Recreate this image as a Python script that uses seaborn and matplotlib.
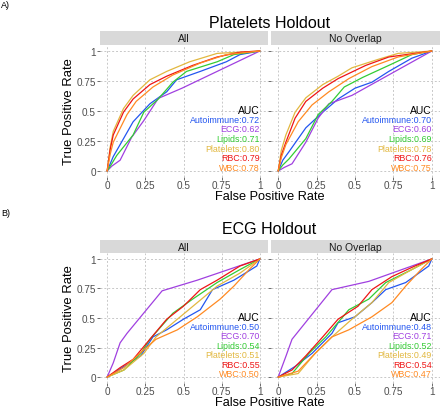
import numpy as np
import pandas as pd
import matplotlib
matplotlib.use("Agg")
import matplotlib.pyplot as plt
import seaborn as sns

models = ["Autoimmune", "ECG", "Lipids", "Platelets", "RBC", "WBC"]
colors = ["#2356F0", "#A040E0", "#33CC33", "#E2B840", "#EE1515", "#FF8A22"]
facets = ["All", "No Overlap"]
titles = ["Platelets Holdout", "ECG Holdout"]
panel_tags = ["A)", "B)"]
ticks = [0, 0.25, 0.5, 0.75, 1]
tick_labels = ["0", "0.25", "0.5", "0.75", "1"]

# AUC values
auc_plt_all = [0.72, 0.62, 0.71, 0.80, 0.79, 0.78]
auc_plt_nov = [0.70, 0.60, 0.69, 0.78, 0.76, 0.75]
auc_ecg_all = [0.50, 0.70, 0.54, 0.51, 0.55, 0.50]
auc_ecg_nov = [0.48, 0.71, 0.52, 0.49, 0.54, 0.47]

# ROC curves (fpr, tpr), Platelets holdout, All
plt_all_fpr = {
    "Autoimmune": [0, 0.04, 0.085, 0.17, 0.28, 0.39, 0.455, 0.61, 0.78, 0.87, 1],
    "ECG":        [0, 0.03, 0.085, 0.16, 0.24, 0.335, 0.49, 1],
    "Lipids":     [0, 0.03, 0.063, 0.17, 0.24, 0.335, 0.43, 0.52, 0.72, 0.83, 1],
    "Platelets":  [0, 0.02, 0.04, 0.107, 0.17, 0.28, 0.39, 0.54, 0.72, 1],
    "RBC":        [0, 0.02, 0.04, 0.107, 0.17, 0.28, 0.39, 0.56, 0.72, 0.87, 1],
    "WBC":        [0, 0.02, 0.04, 0.13, 0.19, 0.30, 0.43, 0.61, 0.78, 1],
}
plt_all_tpr = {
    "Autoimmune": [0, 0.12, 0.22, 0.41, 0.56, 0.66, 0.76, 0.83, 0.91, 0.97, 1],
    "ECG":        [0, 0.04, 0.09, 0.28, 0.42, 0.605, 0.69, 1],
    "Lipids":     [0, 0.06, 0.13, 0.30, 0.49, 0.60, 0.74, 0.83, 0.91, 0.97, 1],
    "Platelets":  [0, 0.20, 0.33, 0.52, 0.63, 0.76, 0.83, 0.91, 0.98, 1],
    "RBC":        [0, 0.18, 0.30, 0.49, 0.60, 0.72, 0.79, 0.88, 0.95, 0.99, 1],
    "WBC":        [0, 0.14, 0.24, 0.47, 0.58, 0.70, 0.80, 0.90, 0.97, 1],
}
# Platelets holdout, No Overlap
plt_nov_fpr = {
    "Autoimmune": [0, 0.03, 0.07, 0.18, 0.29, 0.39, 0.50, 0.61, 0.72, 0.87, 1],
    "ECG":        [0, 0.04, 0.09, 0.18, 0.26, 0.33, 0.48, 1],
    "Lipids":     [0, 0.03, 0.07, 0.18, 0.26, 0.35, 0.43, 0.55, 0.72, 0.87, 1],
    "Platelets":  [0, 0.02, 0.05, 0.11, 0.18, 0.29, 0.39, 0.48, 0.65, 0.78, 1],
    "RBC":        [0, 0.02, 0.05, 0.11, 0.18, 0.29, 0.39, 0.57, 0.72, 1],
    "WBC":        [0, 0.02, 0.05, 0.13, 0.22, 0.33, 0.46, 0.61, 0.78, 1],
}
plt_nov_tpr = {
    "Autoimmune": [0, 0.09, 0.16, 0.36, 0.49, 0.60, 0.69, 0.74, 0.83, 0.94, 1],
    "ECG":        [0, 0.03, 0.06, 0.24, 0.44, 0.56, 0.63, 1],
    "Lipids":     [0, 0.05, 0.10, 0.27, 0.47, 0.58, 0.70, 0.78, 0.88, 0.97, 1],
    "Platelets":  [0, 0.17, 0.30, 0.49, 0.61, 0.72, 0.79, 0.86, 0.93, 0.98, 1],
    "RBC":        [0, 0.13, 0.24, 0.44, 0.58, 0.69, 0.77, 0.88, 0.95, 1],
    "WBC":        [0, 0.11, 0.22, 0.41, 0.55, 0.66, 0.77, 0.87, 0.95, 1],
}
# ECG holdout, All
ecg_all_fpr = {
    "Autoimmune": [0, 0.11, 0.22, 0.30, 0.39, 0.50, 0.61, 0.69, 0.83, 0.98, 1],
    "ECG":        [0, 0.04, 0.085, 0.13, 0.36, 0.59, 1],
    "Lipids":     [0, 0.11, 0.22, 0.28, 0.43, 0.56, 0.72, 0.87, 1],
    "Platelets":  [0, 0.11, 0.24, 0.32, 0.46, 0.59, 0.72, 0.87, 1],
    "RBC":        [0, 0.085, 0.17, 0.28, 0.39, 0.50, 0.61, 0.72, 0.87, 1],
    "WBC":        [0, 0.11, 0.24, 0.32, 0.46, 0.59, 0.74, 0.83, 0.93, 1],
}
ecg_all_tpr = {
    "Autoimmune": [0, 0.09, 0.18, 0.34, 0.40, 0.49, 0.57, 0.74, 0.82, 0.94, 1],
    "ECG":        [0, 0.12, 0.29, 0.37, 0.73, 0.82, 1],
    "Lipids":     [0, 0.06, 0.20, 0.32, 0.54, 0.66, 0.80, 0.91, 1],
    "Platelets":  [0, 0.06, 0.20, 0.34, 0.49, 0.63, 0.77, 0.88, 1],
    "RBC":        [0, 0.08, 0.15, 0.32, 0.49, 0.60, 0.74, 0.82, 0.94, 1],
    "WBC":        [0, 0.08, 0.23, 0.32, 0.40, 0.51, 0.66, 0.77, 0.91, 1],
}
# ECG holdout, No Overlap
ecg_nov_fpr = {
    "Autoimmune": [0, 0.11, 0.22, 0.35, 0.39, 0.50, 0.61, 0.70, 0.83, 0.98, 1],
    "ECG":        [0, 0.05, 0.09, 0.35, 0.59, 1],
    "Lipids":     [0, 0.09, 0.20, 0.31, 0.46, 0.59, 0.70, 0.87, 1],
    "Platelets":  [0, 0.13, 0.24, 0.35, 0.48, 0.61, 0.72, 0.87, 1],
    "RBC":        [0, 0.09, 0.18, 0.29, 0.39, 0.52, 0.61, 0.74, 0.89, 1],
    "WBC":        [0, 0.13, 0.24, 0.35, 0.46, 0.61, 0.74, 0.83, 0.93, 1],
}
ecg_nov_tpr = {
    "Autoimmune": [0, 0.09, 0.20, 0.37, 0.46, 0.51, 0.63, 0.74, 0.80, 0.94, 1],
    "ECG":        [0, 0.175, 0.32, 0.74, 0.81, 1],
    "Lipids":     [0, 0.03, 0.20, 0.34, 0.57, 0.66, 0.80, 0.91, 1],
    "Platelets":  [0, 0.03, 0.20, 0.34, 0.49, 0.63, 0.80, 0.91, 1],
    "RBC":        [0, 0.06, 0.18, 0.34, 0.49, 0.60, 0.74, 0.85, 0.94, 1],
    "WBC":        [0, 0.05, 0.20, 0.34, 0.40, 0.51, 0.63, 0.77, 0.91, 1],
}

curves = [
    [(plt_all_fpr, plt_all_tpr, auc_plt_all), (plt_nov_fpr, plt_nov_tpr, auc_plt_nov)],
    [(ecg_all_fpr, ecg_all_tpr, auc_ecg_all), (ecg_nov_fpr, ecg_nov_tpr, auc_ecg_nov)],
]

sns.set_theme(style="white")
plt.rcParams["font.family"] = ["Liberation Sans", "DejaVu Sans"]

W, H = 440, 410
fig = plt.figure(figsize=(W / 100, H / 100), dpi=100)
fig.patch.set_facecolor("white")

def px_axes(x0, y0, x1, y1):
    return fig.add_axes([x0 / W, 1 - y1 / H, (x1 - x0) / W, (y1 - y0) / H])

rows = [dict(top=46, bot=178, strip=32, title=23, xlab=197.5, ylab_c=112, tag=6),
        dict(top=254, bot=384, strip=241, title=230, xlab=403.3, ylab_c=319, tag=214)]
cols = [(99.5, 267.5), (270.5, 439.5)]

palette = dict(zip(models, colors))
auc_y = [0.43, 0.35, 0.27, 0.19, 0.11, 0.03]

for r, row in enumerate(rows):
    for c, (x0, x1) in enumerate(cols):
        fpr, tpr, aucs = curves[r][c]
        recs = []
        for m in models:
            for fx, ty in zip(fpr[m], tpr[m]):
                recs.append((m, fx, ty))
        df = pd.DataFrame(recs, columns=["model", "fpr", "tpr"])
        ax = px_axes(x0, row["top"], x1, row["bot"])
        sns.lineplot(data=df, x="fpr", y="tpr", hue="model", palette=palette,
                     hue_order=models, estimator=None, sort=False,
                     linewidth=0.9, legend=False, ax=ax)
        ax.set_xlim(-0.05, 1.05)
        ax.set_ylim(-0.05, 1.05)
        ax.set_xticks(ticks)
        ax.set_yticks(ticks)
        ax.set_xticklabels(tick_labels)
        ax.set_yticklabels(tick_labels if c == 0 else [])
        ax.grid(True, color="#C8C8C8", linestyle=(0, (2, 2)), linewidth=0.7)
        ax.set_axisbelow(True)
        for s in ax.spines.values():
            s.set_visible(False)
        ax.tick_params(axis="both", which="both", length=2, width=0.6,
                       color="#555555", labelsize=7.2, labelcolor="#4D4D4D", pad=0.5,
                       bottom=True, left=True)
        ax.set_xlabel("")
        ax.set_ylabel("")
        ax.text(1.0, 0.51, "AUC", ha="right", va="center", fontsize=7.5, color="black")
        for m, col, a, yy in zip(models, colors, aucs, auc_y):
            ax.text(1.0, yy, f"{m}:{a:.2f}", ha="right", va="center", fontsize=6.4, color=col)
        sax = px_axes(x0, row["strip"], x1, row["top"] - 0.5)
        sax.set_facecolor("#D9D9D9")
        sax.set_xticks([]); sax.set_yticks([])
        for s in sax.spines.values():
            s.set_visible(False)
        sax.text(0.5, 0.45, facets[c], ha="center", va="center", fontsize=7.5,
                 color="#1A1A1A", transform=sax.transAxes)
    fig.text(269.5 / W, 1 - row["title"] / H, titles[r], ha="center", va="center",
             fontsize=11.5, color="black")
    fig.text(269.5 / W, 1 - row["xlab"] / H, "False Positive Rate", ha="center",
             va="center", fontsize=9.2, color="black")
    fig.text(69 / W, 1 - row["ylab_c"] / H, "True Positive Rate", ha="center",
             va="center", rotation=90, fontsize=9.4, color="black")
    fig.text(1 / W, 1 - row["tag"] / H, panel_tags[r], ha="left", va="center",
             fontsize=6.5, color="black")

fig.savefig("out.png", dpi=100, facecolor="white")
